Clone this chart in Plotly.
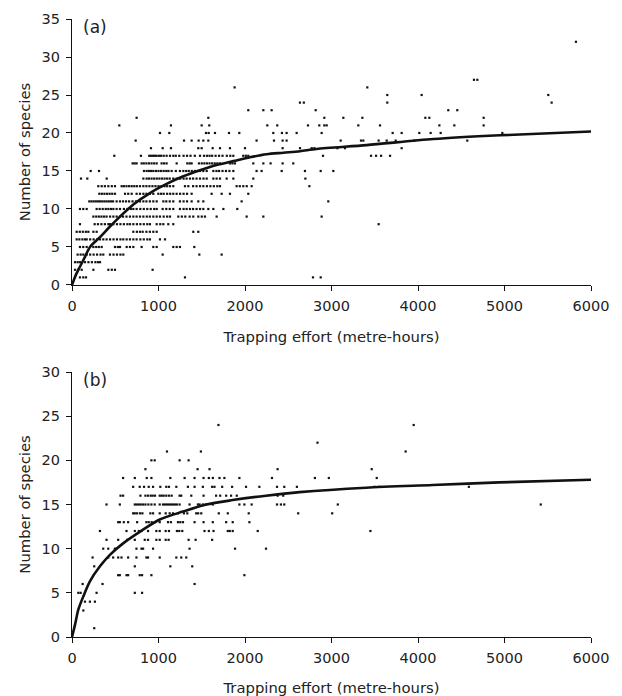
import plotly.graph_objects as go

# ---------------- Panel (a) data: species count -> trapping efforts ----------------
a_rows = [
    (32, [5826]),
    (27, [4647, 4686]),
    (26, [1880, 3414]),
    (25, [3645, 4042, 5506]),
    (24, [2635, 2680, 3645, 5545]),
    (23, [2038, 2212, 2308, 2817, 4350, 4454]),
    (22, [747, 1576, 2917, 3137, 3357, 4085, 4131, 4759]),
    (21, [547, 1144, 1499, 1587, 2258, 2373, 2728, 2859, 2917, 2944, 3310, 3561, 4247, 4420, 4759]),
    (20, [1017, 1125, 1549, 1580, 1653, 1815, 1934, 2327, 2427, 2481, 2597, 2886, 3707, 3811, 4015, 4146, 4262, 4975]),
    (19, [736, 1295, 1383, 1464, 1518, 1576, 2134, 2335, 2435, 2481, 3106, 3341, 3368, 3545, 3638, 3742, 3958, 4570]),
    (18, [913, 1048, 1144, 1460, 1499, 1626, 1711, 1826, 2000, 2435, 2636, 2771, 2802, 3068, 3156, 3811]),
    (17, [489, 797, 893, 915, 937, 958, 979, 1006, 1030, 1060, 1094, 1133, 1171, 1200, 1240, 1290, 1330, 1370,
          1420, 1480, 1526, 1560, 1590, 1620, 1660, 1700, 1740, 1790, 1830, 1865, 1980, 2010, 2038, 2902, 3457,
          3515, 3573, 3677]),
    (16, [701, 724, 747, 805, 830, 860, 890, 920, 950, 979, 1036, 1065, 1094, 1210, 1333, 1360, 1383, 1468, 1500,
          1530, 1560, 1590, 1620, 1650, 1680, 1711, 1826, 1855, 1884, 2096, 2212, 2296, 2435, 2558]),
    (15, [216, 312, 832, 863, 890, 915, 940, 970, 1000, 1030, 1060, 1090, 1115, 1152, 1200, 1248, 1287, 1320, 1350,
          1385, 1420, 1450, 1480, 1518, 1557, 1634, 1670, 1700, 1740, 1780, 1820, 1865, 2134, 2192, 2424, 2693,
          2875, 3021]),
    (14, [104, 177, 401, 825, 863, 890, 920, 950, 980, 1010, 1040, 1070, 1100, 1130, 1171, 1210, 1250, 1290, 1325,
          1364, 1400, 1440, 1480, 1520, 1557, 1634, 1672, 1711, 1788, 1865, 2096, 2698]),
    (13, [304, 343, 380, 420, 460, 497, 574, 600, 630, 660, 690, 720, 750, 786, 825, 860, 895, 930, 965, 1000, 1035,
          1070, 1100, 1133, 1171, 1306, 1345, 1400, 1440, 1480, 1518, 1560, 1600, 1640, 1680, 1711, 1903, 1940,
          1980, 2020, 2077, 2744]),
    (12, [316, 345, 375, 405, 435, 465, 497, 613, 650, 690, 747, 786, 825, 860, 900, 940, 998, 1030, 1060, 1100,
          1135, 1171, 1210, 1250, 1290, 1330, 1383, 1614, 1730, 1826, 2038]),
    (11, [200, 225, 250, 275, 300, 325, 350, 375, 400, 425, 450, 475, 516, 555, 590, 625, 660, 700, 740, 786, 825,
          860, 900, 940, 979, 1056, 1090, 1130, 1171, 1248, 1290, 1330, 1383, 1460, 1518, 1961, 2963]),
    (10, [92, 130, 170, 285, 320, 355, 390, 420, 450, 478, 516, 555, 600, 640, 680, 709, 747, 790, 830, 870, 910,
          950, 979, 1048, 1090, 1130, 1171, 1248, 1290, 1325, 1364, 1400, 1440, 1480, 1518, 1576, 1634, 1750, 1911]),
    (9, [247, 280, 310, 340, 370, 400, 440, 478, 516, 555, 590, 630, 670, 709, 747, 786, 825, 865, 900, 940, 979,
         1017, 1060, 1100, 1133, 1229, 1270, 1310, 1360, 1402, 1460, 1500, 1537, 1672, 2019, 2212, 2886]),
    (8, [92, 262, 300, 340, 380, 420, 439, 478, 520, 560, 600, 640, 670, 709, 750, 790, 830, 870, 901, 979, 1020,
         1056, 1113, 1171, 3545]),
    (7, [54, 90, 125, 160, 189, 247, 285, 709, 750, 786, 817, 860, 900, 940, 979, 1402, 1460]),
    (6, [54, 85, 120, 150, 170, 210, 250, 290, 324, 362, 400, 440, 480, 520, 560, 593, 632, 670, 709, 747, 790,
         830, 870, 901, 1017, 1075]),
    (5, [92, 130, 170, 247, 280, 310, 343, 497, 530, 555, 632, 670, 709, 805, 940, 979, 1171, 1210, 1248, 1414]),
    (4, [65, 100, 131, 170, 210, 250, 290, 330, 362, 439, 480, 520, 560, 593, 1048, 1472, 1730]),
    (3, [35, 65, 92, 150, 190, 230, 270, 300, 324]),
    (2, [35, 70, 112, 247, 420, 460, 497, 932]),
    (1, [92, 130, 162, 1306, 2786, 2875]),
]

a_curve_x = [0, 40, 92, 150, 208, 324, 439, 555, 709, 901, 1094, 1287, 1480, 1672, 1865, 2057, 2250, 2443,
             2636, 2828, 3406, 4177, 4948, 6000]
a_curve_y = [0, 1.2, 2.4, 3.7, 5.0, 6.3, 7.7, 9.0, 10.6, 12.1, 13.3, 14.3, 15.1, 15.8, 16.3, 16.8, 17.2, 17.4,
             17.6, 17.9, 18.4, 19.2, 19.7, 20.2]

# ---------------- Panel (b) data ----------------
b_rows = [
    (24, [1693, 3950]),
    (22, [2838]),
    (21, [1098, 1490, 3857]),
    (20, [918, 956, 1244, 1348]),
    (19, [849, 1452, 1590, 2377, 3465]),
    (18, [591, 726, 864, 918, 1137, 1302, 1417, 1521, 1582, 1628, 1705, 1762, 1935, 2312, 2808, 2969, 3523]),
    (17, [707, 783, 833, 887, 937, 1021, 1090, 1121, 1206, 1340, 1417, 1513, 1620, 1647, 1736, 1851, 2012, 2166,
          2370, 2454, 2600, 3496, 3553, 4588]),
    (16, [561, 591, 791, 849, 879, 910, 933, 960, 1014, 1037, 1060, 1090, 1121, 1152, 1244, 1263, 1379, 1521, 1666,
          1713, 1782, 1839, 1905, 2377, 2442]),
    (15, [399, 553, 726, 749, 772, 795, 822, 849, 883, 918, 956, 1014, 1052, 1075, 1098, 1121, 1144, 1167, 1190,
          1213, 1244, 1359, 1455, 1475, 1513, 1551, 1628, 1935, 1993, 2077, 2370, 2415, 2454, 3073, 5419]),
    (14, [707, 726, 753, 787, 814, 906, 937, 1014, 1083, 1129, 1167, 1225, 1294, 1333, 1436, 1459, 1494, 1697,
          1801, 2043, 2615, 3008]),
    (13, [534, 553, 599, 649, 753, 860, 887, 921, 960, 1014, 1110, 1144, 1225, 1252, 1283, 1417, 1521, 1628, 1782,
          1858, 2051]),
    (12, [323, 630, 726, 772, 802, 879, 975, 1014, 1083, 1121, 1213, 1240, 1275, 1532, 1582, 1636, 1801, 1824,
          1858, 2147, 3450]),
    (11, [399, 534, 637, 726, 841, 879, 975, 1014, 1083, 1117, 1348, 1429, 1620]),
    (10, [361, 419, 495, 745, 803, 822, 937, 1359, 1885, 2243]),
    (9, [238, 419, 476, 534, 572, 649, 745, 860, 879, 1014, 1206, 1263, 1321]),
    (8, [257, 726, 1137, 1390]),
    (7, [534, 553, 630, 649, 783, 810, 918, 1993]),
    (6, [123, 353, 1417]),
    (5, [73, 100, 284, 726, 810]),
    (4, [150, 207, 265]),
    (3, [131]),
    (1, [257]),
]

b_curve_x = [0, 35, 73, 131, 207, 323, 438, 591, 783, 1014, 1283, 1551, 1858, 2243, 2631, 3400, 4169, 4938, 6000]
b_curve_y = [0, 1.4, 3.1, 4.6, 6.3, 8.0, 9.3, 10.6, 11.9, 13.3, 14.2, 15.0, 15.5, 16.0, 16.4, 16.9, 17.2, 17.5, 17.8]

x_ticks = [0, 1000, 2000, 3000, 4000, 5000, 6000]
a_yticks = [0, 5, 10, 15, 20, 25, 30, 35]
b_yticks = [0, 5, 10, 15, 20, 25, 30]


def flatten(rows):
    xs, ys = [], []
    for y, row in rows:
        for x in row:
            xs.append(x)
            ys.append(y)
    return xs, ys


ax, ay = flatten(a_rows)
bx, by = flatten(b_rows)

FONT = "DejaVu Sans, Arial, sans-serif"
TXT = "#222222"
fig = go.Figure()

marker = dict(symbol="square", size=2.2, color="#111111", line=dict(width=0))
curve_line = dict(color="#111111", width=2.6, shape="spline", smoothing=0.8)
fig.add_trace(go.Scatter(x=ax, y=ay, mode="markers", marker=marker, xaxis="x", yaxis="y", showlegend=False))
fig.add_trace(go.Scatter(x=a_curve_x, y=a_curve_y, mode="lines", line=curve_line,
                         xaxis="x", yaxis="y", showlegend=False))
fig.add_trace(go.Scatter(x=bx, y=by, mode="markers", marker=marker, xaxis="x2", yaxis="y2", showlegend=False))
fig.add_trace(go.Scatter(x=b_curve_x, y=b_curve_y, mode="lines", line=curve_line,
                         xaxis="x2", yaxis="y2", showlegend=False))

common_x = dict(range=[0, 6000], tickvals=x_ticks, showline=True, linecolor="#111111", linewidth=1.3,
                ticks="outside", ticklen=5, tickcolor="#111111", tickwidth=1.2, showgrid=False, zeroline=False,
                tickfont=dict(size=14.5, color=TXT, family=FONT), ticklabelstandoff=2, automargin=False)
common_y = dict(showline=True, linecolor="#111111", linewidth=1.3, ticks="outside", ticklen=5, tickcolor="#111111",
                tickwidth=1.2, showgrid=False, zeroline=False, tickfont=dict(size=14.5, color=TXT, family=FONT),
                ticklabelstandoff=3, automargin=False)
title_font = dict(size=14.8, color=TXT, family=FONT)

fig.update_layout(
    width=622, height=696,
    margin=dict(l=72, r=31, t=19, b=59),
    paper_bgcolor="white", plot_bgcolor="white",
    font=dict(family=FONT, color=TXT),
    xaxis=dict(common_x, domain=[0, 1], anchor="y",
               title=dict(text="Trapping effort (metre-hours)", font=title_font, standoff=19)),
    yaxis=dict(common_y, domain=[0.5696, 1], anchor="x", range=[0, 35], tickvals=a_yticks,
               title=dict(text="Number of species", font=title_font, standoff=7)),
    xaxis2=dict(common_x, domain=[0, 1], anchor="y2",
                title=dict(text="Trapping effort (metre-hours)", font=title_font, standoff=18)),
    yaxis2=dict(common_y, domain=[0, 0.4288], anchor="x2", range=[0, 30], tickvals=b_yticks,
                title=dict(text="Number of species", font=title_font, standoff=7)),
    annotations=[
        dict(text="(a)", x=0.017, y=1.006, xref="paper", yref="paper", xanchor="left", yanchor="top",
             showarrow=False, font=dict(size=17, family=FONT, color=TXT)),
        dict(text="(b)", x=0.017, y=0.4348, xref="paper", yref="paper", xanchor="left", yanchor="top",
             showarrow=False, font=dict(size=17, family=FONT, color=TXT)),
    ],
)

fig.write_html("out.html", config={"displayModeBar": False},
               post_script="document.body.style.margin='0px';document.body.style.overflow='hidden';")
